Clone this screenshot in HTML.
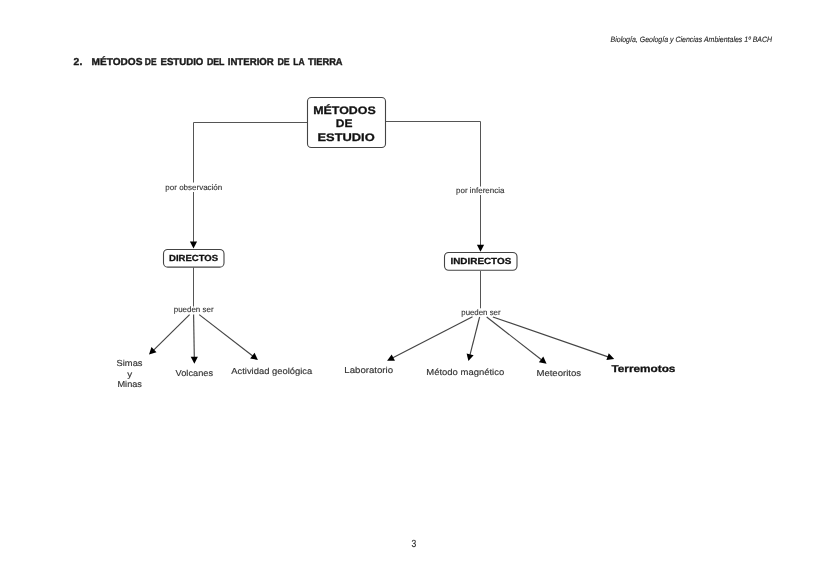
<!DOCTYPE html>
<html><head><meta charset="utf-8">
<style>
html,body{margin:0;padding:0;background:#fff;width:828px;height:586px;overflow:hidden}
svg{display:block;filter:grayscale(1)}
text{font-family:"Liberation Sans",sans-serif;text-rendering:geometricPrecision}
</style></head>
<body>
<svg width="828" height="586" viewBox="0 0 828 586">
<rect width="828" height="586" fill="#fff"/>
<g stroke="#555" stroke-width="1" fill="none">
  <polyline points="307.5,122.5 193.5,122.5 193.5,182.5"/>
  <polyline points="385.5,121.5 480.5,121.5 480.5,186.5"/>
  <line x1="193.5" y1="267.5" x2="193.5" y2="306.5"/>
  <line x1="480.5" y1="271" x2="480.5" y2="308.3"/>
  <line x1="193.5" y1="192.0" x2="193.50" y2="241.90"/>
<line x1="480.5" y1="195.0" x2="480.50" y2="245.30"/>
</g>
<g stroke="#444" stroke-width="1.15" fill="none">
  <line x1="189.6" y1="314.6" x2="153.63" y2="350.04"/>
<line x1="193.6" y1="314.6" x2="194.29" y2="357.20"/>
<line x1="199.2" y1="314.6" x2="252.75" y2="355.93"/>
<line x1="472.5" y1="316.7" x2="392.88" y2="357.82"/>
<line x1="479.6" y1="317.0" x2="470.00" y2="354.80"/>
<line x1="486.7" y1="317.0" x2="541.47" y2="359.70"/>
<line x1="492.9" y1="317.0" x2="608.06" y2="356.87"/>
</g>
<g fill="#000" stroke="none">
  <polygon points="193.50,248.40 189.90,241.40 197.10,241.40"/>
<polygon points="480.50,251.80 476.90,244.80 484.10,244.80"/>
<polygon points="149.00,354.60 151.46,347.12 156.51,352.25"/>
<polygon points="194.40,363.70 190.69,356.76 197.89,356.64"/>
<polygon points="257.90,359.90 250.16,358.47 254.56,352.77"/>
<polygon points="387.10,360.80 391.67,354.39 394.97,360.79"/>
<polygon points="468.40,361.10 466.63,353.43 473.61,355.20"/>
<polygon points="546.60,363.70 538.87,362.24 543.29,356.56"/>
<polygon points="614.20,359.00 606.41,360.11 608.76,353.31"/>
</g>
<g stroke="#444" stroke-width="1.1" fill="#fff">
  <rect x="307.5" y="97.5" width="78" height="50" rx="3.8"/>
  <rect x="163.5" y="249.5" width="60.5" height="17.6" rx="4.2"/>
  <rect x="444.5" y="252.5" width="72.5" height="17.8" rx="4.2"/>
</g>
<text x="610.58" y="42.2" font-size="7.8" fill="#222" font-style="italic" stroke="#222" stroke-width="0.1" textLength="161.49" lengthAdjust="spacingAndGlyphs">Biología, Geología y Ciencias Ambientales 1º BACH</text>
<text x="73.64" y="64.5" font-size="10.0" fill="#1a1a1a" font-weight="bold" stroke="#1a1a1a" stroke-width="0.4" textLength="8.63" lengthAdjust="spacingAndGlyphs">2.</text>
<text x="91.59" y="64.5" font-size="10.0" fill="#1a1a1a" font-weight="bold" stroke="#1a1a1a" stroke-width="0.4" textLength="50.84" lengthAdjust="spacingAndGlyphs">MÉTODOS</text>
<text x="144.81" y="64.5" font-size="10.0" fill="#1a1a1a" font-weight="bold" stroke="#1a1a1a" stroke-width="0.4" textLength="11.72" lengthAdjust="spacingAndGlyphs">DE</text>
<text x="160.53" y="64.5" font-size="10.0" fill="#1a1a1a" font-weight="bold" stroke="#1a1a1a" stroke-width="0.4" textLength="42.81" lengthAdjust="spacingAndGlyphs">ESTUDIO</text>
<text x="206.88" y="64.5" font-size="10.0" fill="#1a1a1a" font-weight="bold" stroke="#1a1a1a" stroke-width="0.4" textLength="17.58" lengthAdjust="spacingAndGlyphs">DEL</text>
<text x="227.72" y="64.5" font-size="10.0" fill="#1a1a1a" font-weight="bold" stroke="#1a1a1a" stroke-width="0.4" textLength="46.10" lengthAdjust="spacingAndGlyphs">INTERIOR</text>
<text x="277.48" y="64.5" font-size="10.0" fill="#1a1a1a" font-weight="bold" stroke="#1a1a1a" stroke-width="0.4" textLength="12.26" lengthAdjust="spacingAndGlyphs">DE</text>
<text x="293.36" y="64.5" font-size="10.0" fill="#1a1a1a" font-weight="bold" stroke="#1a1a1a" stroke-width="0.4" textLength="11.33" lengthAdjust="spacingAndGlyphs">LA</text>
<text x="308.01" y="64.5" font-size="10.0" fill="#1a1a1a" font-weight="bold" stroke="#1a1a1a" stroke-width="0.4" textLength="34.59" lengthAdjust="spacingAndGlyphs">TIERRA</text>
<text x="313.24" y="114.0" font-size="10.9" fill="#111" font-weight="bold" stroke="#111" stroke-width="0.28" textLength="62.48" lengthAdjust="spacingAndGlyphs">MÉTODOS</text>
<text x="335.77" y="127.2" font-size="10.9" fill="#111" font-weight="bold" stroke="#111" stroke-width="0.28" textLength="16.68" lengthAdjust="spacingAndGlyphs">DE</text>
<text x="317.51" y="141.2" font-size="10.9" fill="#111" font-weight="bold" stroke="#111" stroke-width="0.28" textLength="57.18" lengthAdjust="spacingAndGlyphs">ESTUDIO</text>
<text x="169.09" y="260.9" font-size="8.8" fill="#111" font-weight="bold" stroke="#111" stroke-width="0.28" textLength="49.01" lengthAdjust="spacingAndGlyphs">DIRECTOS</text>
<text x="450.47" y="264.3" font-size="8.9" fill="#111" font-weight="bold" stroke="#111" stroke-width="0.28" textLength="60.80" lengthAdjust="spacingAndGlyphs">INDIRECTOS</text>
<text x="611.42" y="372.1" font-size="10.0" fill="#111" font-weight="bold" stroke="#111" stroke-width="0.28" textLength="64.00" lengthAdjust="spacingAndGlyphs">Terremotos</text>
<text x="165.36" y="190.0" font-size="8.0" fill="#333" stroke="#333" stroke-width="0.12" textLength="56.90" lengthAdjust="spacingAndGlyphs">por observación</text>
<text x="456.06" y="193.0" font-size="8.0" fill="#333" stroke="#333" stroke-width="0.12" textLength="48.45" lengthAdjust="spacingAndGlyphs">por inferencia</text>
<text x="173.76" y="312.3" font-size="8.0" fill="#333" stroke="#333" stroke-width="0.12" textLength="39.81" lengthAdjust="spacingAndGlyphs">pueden ser</text>
<text x="461.27" y="314.8" font-size="8.0" fill="#333" stroke="#333" stroke-width="0.12" textLength="39.30" lengthAdjust="spacingAndGlyphs">pueden ser</text>
<text x="116.55" y="366.4" font-size="8.7" fill="#333" stroke="#333" stroke-width="0.15" textLength="25.97" lengthAdjust="spacingAndGlyphs">Simas</text>
<text x="127.16" y="376.6" font-size="8.7" fill="#333" stroke="#333" stroke-width="0.15" textLength="4.92" lengthAdjust="spacingAndGlyphs">y</text>
<text x="117.44" y="386.7" font-size="8.7" fill="#333" stroke="#333" stroke-width="0.15" textLength="24.51" lengthAdjust="spacingAndGlyphs">Minas</text>
<text x="175.57" y="376.3" font-size="8.7" fill="#333" stroke="#333" stroke-width="0.15" textLength="37.49" lengthAdjust="spacingAndGlyphs">Volcanes</text>
<text x="231.27" y="373.9" font-size="8.7" fill="#333" stroke="#333" stroke-width="0.15" textLength="80.92" lengthAdjust="spacingAndGlyphs">Actividad geológica</text>
<text x="344.30" y="373.3" font-size="8.7" fill="#333" stroke="#333" stroke-width="0.15" textLength="48.78" lengthAdjust="spacingAndGlyphs">Laboratorio</text>
<text x="426.31" y="374.5" font-size="8.7" fill="#333" stroke="#333" stroke-width="0.15" textLength="77.92" lengthAdjust="spacingAndGlyphs">Método magnético</text>
<text x="536.40" y="376.1" font-size="8.7" fill="#333" stroke="#333" stroke-width="0.15" textLength="44.77" lengthAdjust="spacingAndGlyphs">Meteoritos</text>
<text x="411.62" y="546.7" font-size="10.4" fill="#222" stroke="#222" stroke-width="0.1" textLength="4.72" lengthAdjust="spacingAndGlyphs">3</text>
</svg>
</body></html>
